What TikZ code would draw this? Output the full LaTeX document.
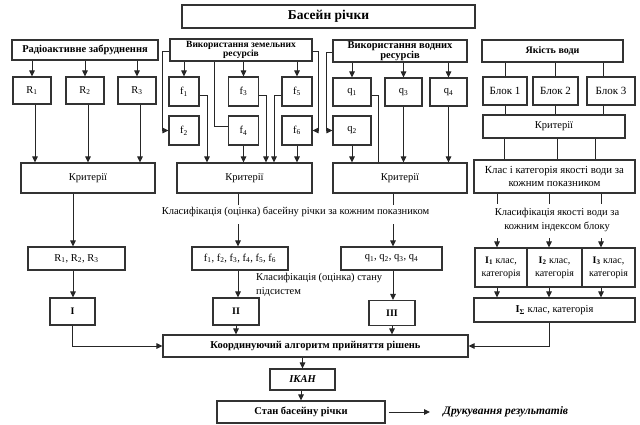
\documentclass[tikz,border=0pt]{standalone}
\usepackage{fontspec}
\setmainfont{Liberation Serif}
\usetikzlibrary{arrows.meta,calc}
\begin{document}
\begin{tikzpicture}[x=1pt,y=-1pt,
  box/.style={draw=black!80,line width=1.1pt,inner sep=0.5pt,align=center,font=\fontsize{10.5}{13}\selectfont},
  hbox/.style={box,font=\fontsize{10.5}{9}\selectfont\bfseries},
  ln/.style={draw=black!85,line width=1pt},
  arr/.style={ln,-{Triangle[length=6pt,width=5.5pt]}},
  txt/.style={inner sep=0pt,align=center,font=\fontsize{10.5}{14}\selectfont}]
\useasboundingbox (0,0) rectangle (640,425);
% top
\node[box,font=\fontsize{13.5}{14}\selectfont\bfseries,minimum width=293,minimum height=23] (top) at (328.5,16.5) {Басейн річки};
% headers
\node[hbox,minimum width=146,minimum height=20] (rad) at (85,50) {Радіоактивне забруднення};
\node[hbox,font=\fontsize{9.5}{9}\selectfont\bfseries,minimum width=142,minimum height=22] (land) at (241,50) {Використання земельних\\ресурсів};
\node[hbox,minimum width=134,minimum height=22] (water) at (400,51) {Використання водних\\ресурсів};
\node[hbox,font=\fontsize{10}{10}\selectfont\bfseries,minimum width=141,minimum height=22] (qual) at (552.5,51) {Якість води};
% R
\node[box,minimum width=38,minimum height=27] (r1) at (32,90.5) {R\textsubscript{1}};
\node[box,minimum width=38,minimum height=27] (r2) at (85,90.5) {R\textsubscript{2}};
\node[box,minimum width=38,minimum height=27] (r3) at (137,90.5) {R\textsubscript{3}};
% f
\node[box,minimum width=30,minimum height=29] (f1) at (184,91.5) {f\textsubscript{1}};
\node[box,minimum width=30,minimum height=29] (f3) at (243.5,91.5) {f\textsubscript{3}};
\node[box,minimum width=30,minimum height=29] (f5) at (297,91.5) {f\textsubscript{5}};
\node[box,minimum width=30,minimum height=29] (f2) at (184,130.5) {f\textsubscript{2}};
\node[box,minimum width=30,minimum height=29] (f4) at (243.5,130.5) {f\textsubscript{4}};
\node[box,minimum width=30,minimum height=29] (f6) at (297,130.5) {f\textsubscript{6}};
% q
\node[box,minimum width=38,minimum height=28] (q1) at (352,92) {q\textsubscript{1}};
\node[box,minimum width=37,minimum height=28] (q3) at (403.5,92) {q\textsubscript{3}};
\node[box,minimum width=37,minimum height=28] (q4) at (448.5,92) {q\textsubscript{4}};
\node[box,minimum width=38,minimum height=29] (q2) at (352,130.5) {q\textsubscript{2}};
% blocks
\node[box,font=\fontsize{11}{13}\selectfont,minimum width=44,minimum height=28] (b1) at (505,91) {Блок 1};
\node[box,font=\fontsize{11}{13}\selectfont,minimum width=45,minimum height=28] (b2) at (555.5,91) {Блок 2};
\node[box,font=\fontsize{11}{13}\selectfont,minimum width=48,minimum height=28] (b3) at (611,91) {Блок 3};
\node[box,minimum width=142,minimum height=23] (critR) at (554,126.5) {Критерії};
\node[box,font=\fontsize{10.8}{13}\selectfont,minimum width=161,minimum height=33] (cls) at (554.5,176.5) {Клас і категорія якості води за\\кожним показником};
% criteria
\node[box,minimum width=134,minimum height=30] (critL) at (88,178) {Критерії};
\node[box,minimum width=135,minimum height=30] (critM) at (244.5,178) {Критерії};
\node[box,minimum width=134,minimum height=30] (critQ) at (400,178) {Критерії};
\node[txt] (clsTxt) at (295.5,212) {Класифікація (оцінка) басейну річки за кожним показником};
\node[txt] (clsTxtR) at (557,219.5) {Класифікація якості води за\\кожним індексом блоку};
% lists
\node[box,minimum width=97,minimum height=23] (rl) at (76.5,258.5) {R\textsubscript{1}, R\textsubscript{2}, R\textsubscript{3}};
\node[box,minimum width=96,minimum height=23] (fl) at (240,258.5) {f\textsubscript{1}, f\textsubscript{2}, f\textsubscript{3}, f\textsubscript{4}, f\textsubscript{5}, f\textsubscript{6}};
\node[box,minimum width=101,minimum height=23] (ql) at (391.5,258.5) {q\textsubscript{1}, q\textsubscript{2}, q\textsubscript{3}, q\textsubscript{4}};
% I boxes
\node[box,font=\fontsize{10}{13}\selectfont,minimum width=52,minimum height=39] (i1) at (501,267.5) {\textbf{I\textsubscript{1}} клас,\\категорія};
\node[box,font=\fontsize{10}{13}\selectfont,minimum width=55,minimum height=39] (i2) at (554.5,267.5) {\textbf{I\textsubscript{2}} клас,\\категорія};
\node[box,font=\fontsize{10}{13}\selectfont,minimum width=53,minimum height=39] (i3) at (608.5,267.5) {\textbf{I\textsubscript{3}} клас,\\категорія};
\node[box,minimum width=161,minimum height=24] (isum) at (554.5,310) {\textbf{I\textsubscript{Σ}} клас, категорія};
% subsystems
\node[box,font=\fontsize{10}{12}\selectfont\bfseries,minimum width=45,minimum height=27] (s1) at (72.5,311.5) {I};
\node[box,font=\fontsize{10}{12}\selectfont\bfseries,minimum width=46,minimum height=27] (s2) at (236,311.5) {II};
\node[box,font=\fontsize{10}{12}\selectfont\bfseries,minimum width=46,minimum height=25] (s3) at (392,313) {III};
\node[txt,anchor=north west,align=left,font=\fontsize{10.5}{14.5}\selectfont] (subTxt) at (256,273) {Класифікація (оцінка) стану\\підсистем};
% bottom
\node[hbox,minimum width=305,minimum height=22] (coord) at (315.5,346) {Координуючий алгоритм прийняття рішень};
\node[hbox,font=\fontsize{10.5}{12}\selectfont\bfseries\itshape,minimum width=65,minimum height=21] (ikan) at (302.5,379.5) {ІКАН};
\node[hbox,minimum width=168,minimum height=22] (stan) at (301,412) {Стан басейну річки};
\node[txt,anchor=west,font=\fontsize{11.5}{12}\selectfont\bfseries\itshape] (print) at (443,412) {Друкування результатів};
% ---- connectors
\foreach \r in {r1,r2,r3} \draw[arr] (rad.south -| \r.north) -- (\r.north);
\foreach \r in {r1,r2,r3} \draw[arr] ([xshift=3pt]\r.south) -- ([xshift=3pt]\r.south |- critL.north);
\foreach \f in {f1,f3,f5} \draw[arr] (land.south -| \f.north) -- (\f.north);
\draw[arr] ([yshift=-2pt]land.west) -- ++(-7,0) |- (f2.west);
\draw[arr] ([yshift=-2pt]land.east) -- ++(6,0) |- (f6.east);
\draw[ln] ([xshift=-27pt]land.south) |- ([yshift=4pt]f4.west);
\draw[arr] ([yshift=-4pt]f1.east) -| ([xshift=-37.5pt]critM.north);
\draw[arr] ([yshift=-4pt]f3.east) -| ([xshift=21.5pt]critM.north);
\draw[arr] ([yshift=-4pt]f5.west) -| ([xshift=29.5pt]critM.north);
\draw[arr] (f4.south) -- (f4.south |- critM.north);
\draw[arr] (f6.south) -- (f6.south |- critM.north);
\foreach \q in {q1,q3,q4} \draw[arr] (water.south -| \q.north) -- (\q.north);
\draw[arr] ([yshift=-2pt]water.west) -- ++(-6,0) |- (q2.west);
\draw[ln] ([yshift=-4pt]q1.east) -| ([xshift=-22pt]critQ.north);
\draw[arr] (q2.south) -- (q2.south |- critQ.north);
\draw[arr] (q3.south) -- (q3.south |- critQ.north);
\draw[arr] (q4.south) -- (q4.south |- critQ.north);
% quality
\draw[ln] (b1.north |- qual.south) -- (b1.north);
\draw[ln] (b2.north |- qual.south) -- (b2.north);
\draw[ln] ([xshift=-8pt]b3.north |- qual.south) -- ([xshift=-8pt]b3.north);
\draw[ln] (b1.south) -- (b1.south |- critR.north);
\draw[ln] (b2.south) -- (b2.south |- critR.north);
\draw[ln] ([xshift=-8pt]b3.south) -- ([xshift=-8pt]b3.south |- critR.north);
\draw[ln] ([xshift=-50pt]critR.south) -- ([xshift=-50pt]critR.south |- cls.north);
\draw[ln] ([xshift=3pt]critR.south) -- ([xshift=3pt]critR.south |- cls.north);
\draw[ln] ([xshift=41pt]critR.south) -- ([xshift=41pt]critR.south |- cls.north);
% below criteria
\draw[arr] ([xshift=-3.5pt]rl.north |- critL.south) -- ([xshift=-3.5pt]rl.north);
\draw[ln] ([xshift=-2pt]fl.north |- critM.south) -- ++(0,11);
\draw[arr] ([xshift=-2pt,yshift=22pt]fl.north) -- ([xshift=-2pt]fl.north);
\draw[ln] ([xshift=1.5pt]ql.north |- critQ.south) -- ++(0,11);
\draw[arr] ([xshift=1.5pt,yshift=22pt]ql.north) -- ([xshift=1.5pt]ql.north);
\foreach \i/\s in {i1/-4,i2/-5.5,i3/-7.5} {
  \draw[ln] ([xshift=\s pt]\i.north |- cls.south) -- ++(0,10);
  \draw[arr] ([xshift=\s pt,yshift=9pt]\i.north) -- ([xshift=\s pt]\i.north);
  \draw[arr] ([xshift=\s pt]\i.south) -- ([xshift=\s pt]\i.south |- isum.north);
}
\draw[arr] ([xshift=-3.5pt]rl.south) -- ([xshift=-3.5pt]rl.south |- s1.north);
\draw[arr] ([xshift=-2pt]fl.south) -- ([xshift=-2pt]fl.south |- s2.north);
\draw[arr] ([xshift=1.5pt]ql.south) -- ([xshift=1.5pt]ql.south |- s3.north);
\draw[arr] (s1.south) |- (coord.west);
\draw[arr] (s2.south) -- (s2.south |- coord.north);
\draw[arr] (s3.south) -- (s3.south |- coord.north);
\draw[arr] ([xshift=-5.5pt]isum.south) |- (coord.east);
\draw[arr] (ikan.north |- coord.south) -- (ikan.north);
\draw[arr] (stan.north |- ikan.south) -- (stan.north);
\draw[arr] ([xshift=3pt]stan.east) -- ([xshift=-13pt]print.west);
\end{tikzpicture}
\end{document}
